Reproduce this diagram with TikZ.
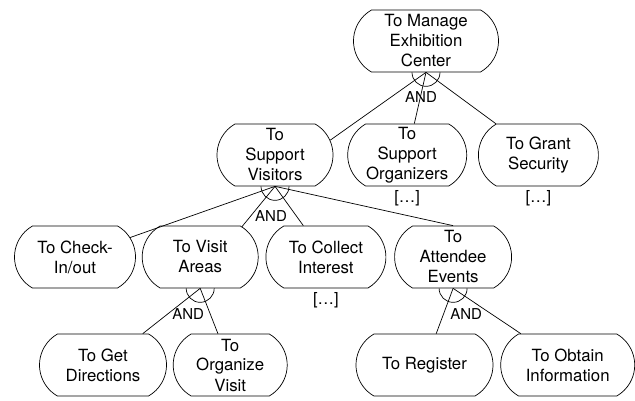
\documentclass[tikz,border=0pt]{standalone}
\usepackage{fontspec}
\setmainfont{TeX Gyre Heros}
\usetikzlibrary{positioning,shapes.misc}

\begin{document}
\begin{tikzpicture}[
    x = 1pt, y = 1pt,
    line width = 0.7pt,
    node distance = 6pt,
    goal/.style={rounded rectangle, rounded rectangle arc length=120, draw,
        minimum height=62pt, inner xsep=0pt, inner ysep=0pt, align=center,
        font=\fontsize{16.8}{20}\selectfont},
    andlbl/.style={inner sep=0pt, font=\fontsize{15}{18}\selectfont},
    more/.style={inner sep=0pt, font=\fontsize{16.5}{20}\selectfont},
    andarc/.style={radius=14pt, start angle=180, end angle=360}
]
    \useasboundingbox (0,0) rectangle (635,400);

    % top goal
    \node[goal, minimum width=145pt] (mgc) at (426,359) {To Manage\\Exhibition\\Center};

    % second row
    \node[goal, minimum width=116pt] (sv) at (275,245) {To\\Support\\Visitors};
    \node[goal, minimum width=119pt, right=14pt of sv] (so) {To\\Support\\Organizers};
    \node[goal, minimum width=120pt, right=11pt of so] (gs) {To Grant\\Security};
    \node[more, below=4pt of so] (so-more) {[…]};
    \node[more, below=4pt of gs] (gs-more) {[…]};

    % third row
    \node[goal, minimum width=121pt] (cio) at (75,143) {To Check-\\In/out};
    \node[goal, minimum width=116pt, right=6pt of cio] (va) {To Visit\\Areas};
    \node[goal, minimum width=120pt, right=7pt of va] (col) {To Collect\\Interest};
    \node[goal, minimum width=117pt, right=8pt of col] (ae) {To\\Attendee\\Events};
    \node[more, below=4pt of col] (col-more) {[…]};

    % bottom row
    \node[goal, minimum width=127pt] (gd) at (103,35) {To Get\\Directions};
    \node[goal, minimum width=114pt, right=6pt of gd] (ov) {To\\Organize\\Visit};
    \node[goal, minimum width=137pt] (reg) at (424.5,35) {To Register};
    \node[goal, minimum width=134pt, right=7pt of reg] (oi) {To Obtain\\Information};

    % decompositions
    \draw (mgc.south) -- (sv.15);
    \draw (mgc.south) -- (so);
    \draw (mgc.south) -- (gs);
    \draw ([xshift=-14pt]mgc.south) arc[andarc];
    \node[andlbl] (and-mgc) at ([shift={(-5pt,-25pt)}]mgc.south) {AND};

    \draw (sv.south) -- (cio);
    \draw (sv.south) -- (va.36);
    \draw (sv.south) -- (col);
    \draw (sv.south) -- (ae.north);
    \draw ([xshift=-14pt]sv.south) arc[andarc];
    \node[andlbl] (and-sv) at ([shift={(-4pt,-30pt)}]sv.south) {AND};

    \draw (va.south) -- (gd);
    \draw (va.south) -- (ov);
    \draw ([xshift=-14pt]va.south) arc[andarc];
    \node[andlbl] (and-va) at ([shift={(-12pt,-26pt)}]va.south) {AND};

    \draw (ae.south) -- (reg);
    \draw (ae.south) -- (oi);
    \draw ([xshift=-14pt]ae.south) arc[andarc];
    \node[andlbl] (and-ae) at ([shift={(13pt,-26pt)}]ae.south) {AND};
\end{tikzpicture}
\end{document}
